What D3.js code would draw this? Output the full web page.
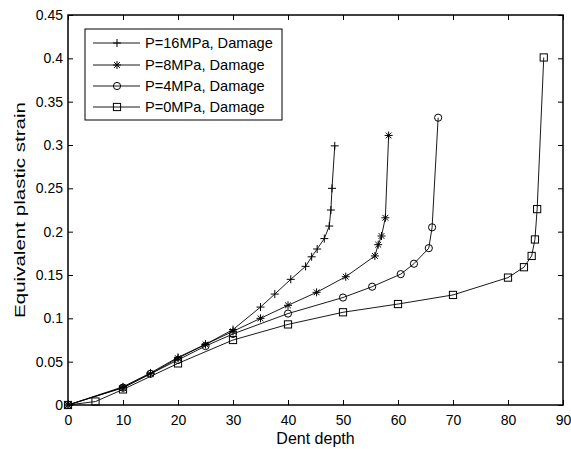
<!DOCTYPE html>
<html>
<head>
<meta charset="utf-8">
<script src="https://cdn.jsdelivr.net/npm/d3@7"></script>
<style>
  html, body { margin: 0; padding: 0; background: #fff; }
  svg { display: block; font-family: "Liberation Sans", Arial, sans-serif; }
</style>
</head>
<body>
<svg id="chart" width="571" height="449"></svg>
<script>
// Dent depth vs. equivalent plastic strain at four internal pressures
const seriesNames = ["P=16MPa, Damage", "P=8MPa, Damage", "P=4MPa, Damage", "P=0MPa, Damage"];
const markerTypes = ["plus", "asterisk", "circle", "square"];

const depth16 = [0, 10, 15, 20, 25, 30, 35, 37.6, 40.5, 43.2, 44.3, 45.3, 46.6, 47.5, 47.8, 48.0, 48.5];
const strain16 = [0, 0.021, 0.037, 0.055, 0.070, 0.087, 0.113, 0.128, 0.145, 0.160, 0.171, 0.180, 0.192, 0.2065, 0.225, 0.250, 0.299];

const depth8 = [0, 10, 15, 20, 25, 30, 35, 40, 45.2, 50.5, 55.8, 56.4, 57.0, 57.7, 58.3];
const strain8 = [0, 0.020, 0.036, 0.054, 0.070, 0.085, 0.100, 0.115, 0.130, 0.148, 0.172, 0.185, 0.195, 0.216, 0.311];

const depth4 = [0, 10, 15, 20, 25, 30, 40, 50, 55.3, 60.5, 62.9, 65.6, 66.2, 67.3];
const strain4 = [0, 0.020, 0.036, 0.052, 0.068, 0.082, 0.1055, 0.124, 0.1365, 0.151, 0.163, 0.181, 0.205, 0.3315];

const depth0 = [0, 5, 10, 20, 30, 40, 50, 60, 70, 80, 82.9, 84.3, 84.9, 85.3, 86.5];
const strain0 = [0, 0.004, 0.018, 0.048, 0.075, 0.093, 0.107, 0.1165, 0.127, 0.147, 0.159, 0.172, 0.191, 0.226, 0.401];

const xTicks = [0, 10, 20, 30, 40, 50, 60, 70, 80, 90];
const yTicks = [0, 0.05, 0.1, 0.15, 0.2, 0.25, 0.3, 0.35, 0.4, 0.45];
const xTickLabels = ["0", "10", "20", "30", "40", "50", "60", "70", "80", "90"];
const yTickLabels = ["0", "0.05", "0.1", "0.15", "0.2", "0.25", "0.3", "0.35", "0.4", "0.45"];

const series = [
  { name: seriesNames[0], marker: markerTypes[0], xs: depth16, ys: strain16 },
  { name: seriesNames[1], marker: markerTypes[1], xs: depth8, ys: strain8 },
  { name: seriesNames[2], marker: markerTypes[2], xs: depth4, ys: strain4 },
  { name: seriesNames[3], marker: markerTypes[3], xs: depth0, ys: strain0 }
];

const svg = d3.select("#chart");
const plotLeft = 68, plotRight = 563, plotTop = 15, plotBottom = 405;

const x = d3.scaleLinear().domain([0, 90]).range([plotLeft, plotRight]);
const y = d3.scaleLinear().domain([0, 0.45]).range([plotBottom, plotTop]);

const ink = "#000";

// marker drawing
function drawMarker(g, type, cx, cy) {
  const s = 4;
  if (type === "plus") {
    g.append("path")
      .attr("d", `M${cx - s},${cy}H${cx + s}M${cx},${cy - s}V${cy + s}`)
      .attr("stroke", ink).attr("stroke-width", 1).attr("fill", "none");
  } else if (type === "asterisk") {
    const d = s * 0.72;
    g.append("path")
      .attr("d", `M${cx - s},${cy}H${cx + s}M${cx},${cy - s}V${cy + s}` +
                 `M${cx - d},${cy - d}L${cx + d},${cy + d}M${cx - d},${cy + d}L${cx + d},${cy - d}`)
      .attr("stroke", ink).attr("stroke-width", 1).attr("fill", "none");
  } else if (type === "circle") {
    g.append("circle").attr("cx", cx).attr("cy", cy).attr("r", 3.6)
      .attr("stroke", ink).attr("stroke-width", 1).attr("fill", "none");
  } else if (type === "square") {
    g.append("rect").attr("x", cx - 3.6).attr("y", cy - 3.6)
      .attr("width", 7.2).attr("height", 7.2)
      .attr("stroke", ink).attr("stroke-width", 1).attr("fill", "none");
  }
}

// axes box ticks (inward, mirrored on top and right)
const tickLen = 5;
const axisFont = 14;

const xAxisB = d3.axisBottom(x).tickValues(xTicks).tickSizeInner(-tickLen).tickSizeOuter(0)
  .tickPadding(10).tickFormat((d, i) => xTickLabels[i]);
const xAxisT = d3.axisTop(x).tickValues(xTicks).tickSizeInner(-tickLen).tickSizeOuter(0).tickFormat("");
const yAxisL = d3.axisLeft(y).tickValues(yTicks).tickSizeInner(-tickLen).tickSizeOuter(0)
  .tickPadding(5).tickFormat((d, i) => yTickLabels[i]);
const yAxisR = d3.axisRight(y).tickValues(yTicks).tickSizeInner(-tickLen).tickSizeOuter(0).tickFormat("");

function styleAxis(g) {
  g.select(".domain").remove();
  g.selectAll("line").attr("stroke", ink).attr("stroke-width", 1);
  g.selectAll("text").attr("fill", ink).style("font-size", axisFont + "px")
    .style("font-family", "'Liberation Sans', Arial, sans-serif");
}

svg.append("g").attr("transform", `translate(0,${plotBottom})`).call(xAxisB).call(styleAxis);
svg.append("g").attr("transform", `translate(0,${plotTop})`).call(xAxisT).call(styleAxis);
svg.append("g").attr("transform", `translate(${plotLeft},0)`).call(yAxisL).call(styleAxis);
svg.append("g").attr("transform", `translate(${plotRight},0)`).call(yAxisR).call(styleAxis);

// series lines and markers
const line = d3.line().x(d => x(d[0])).y(d => y(d[1]));
series.forEach(s => {
  const pts = s.xs.map((v, i) => [v, s.ys[i]]);
  svg.append("path").datum(pts).attr("d", line)
    .attr("fill", "none").attr("stroke", ink).attr("stroke-width", 0.9);
  const mg = svg.append("g");
  pts.forEach(p => drawMarker(mg, s.marker, x(p[0]), y(p[1])));
});

// plot frame
svg.append("rect").attr("x", plotLeft).attr("y", plotTop)
  .attr("width", plotRight - plotLeft).attr("height", plotBottom - plotTop)
  .attr("fill", "none").attr("stroke", ink).attr("stroke-width", 1.5);

// axis titles
svg.append("text").attr("x", (plotLeft + plotRight) / 2).attr("y", 444)
  .attr("text-anchor", "middle").style("font-size", "16px").attr("fill", ink)
  .text("Dent depth");
svg.append("text")
  .attr("transform", `translate(25,${(plotTop + plotBottom) / 2}) rotate(-90)`)
  .attr("text-anchor", "middle").style("font-size", "15.5px").attr("fill", ink)
  .attr("textLength", 216).attr("lengthAdjust", "spacingAndGlyphs")
  .text("Equivalent plastic strain");

// legend
const lg = svg.append("g");
lg.append("rect").attr("x", 85).attr("y", 29).attr("width", 197).attr("height", 91)
  .attr("fill", "#fff").attr("stroke", ink).attr("stroke-width", 1);
const rowY = [43, 65, 86, 107];
series.forEach((s, i) => {
  lg.append("line").attr("x1", 93).attr("x2", 140).attr("y1", rowY[i]).attr("y2", rowY[i])
    .attr("stroke", ink).attr("stroke-width", 0.9);
  drawMarker(lg, s.marker, 117, rowY[i]);
  lg.append("text").attr("x", 145).attr("y", rowY[i] + 5)
    .style("font-size", "14.6px").attr("fill", ink).text(s.name);
});
</script>
</body>
</html>
